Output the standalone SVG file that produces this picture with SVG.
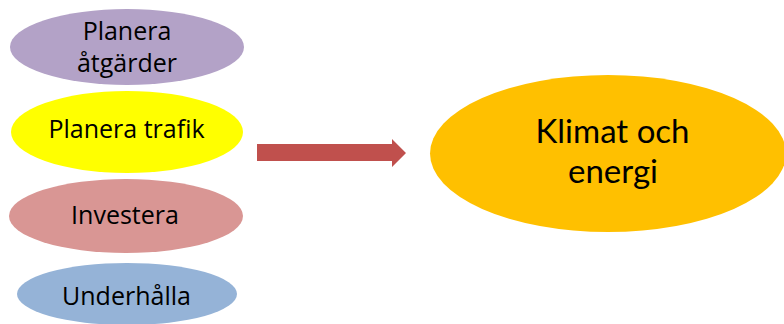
<svg xmlns="http://www.w3.org/2000/svg" width="784" height="324" viewBox="0 0 784 324">
  <style>
    .lbl { font-family: "Open Sans", "Noto Sans", sans-serif; font-size: 25px; fill: #000; text-anchor: middle; }
    .big { font-family: Lato, "Open Sans", sans-serif; font-size: 33px; fill: #000; text-anchor: middle; }
  </style>
  <rect width="784" height="324" fill="#fff"/>

  <g id="planera-atgarder">
    <ellipse cx="127" cy="47" rx="117" ry="38" fill="#B3A2C7"/>
    <text class="lbl"><tspan x="127" y="40">Planera</tspan><tspan x="127" y="72">åtgärder</tspan></text>
  </g>

  <g id="planera-trafik">
    <ellipse cx="127" cy="132" rx="116" ry="41" fill="#FFFF00"/>
    <text class="lbl" x="126.5" y="138">Planera trafik</text>
  </g>

  <g id="investera">
    <ellipse cx="126" cy="216" rx="117" ry="37" fill="#D99694"/>
    <text class="lbl" x="125" y="224">Investera</text>
  </g>

  <g id="underhalla">
    <ellipse cx="127" cy="294" rx="110" ry="31" fill="#95B3D7"/>
    <text class="lbl" x="126.5" y="305">Underhålla</text>
  </g>

  <g id="connectors">
    <polygon points="257,144 392,144 392,139 406,153 392,167 392,161 257,161" fill="#C0504D"/>
  </g>

  <g id="klimat-och-energi">
    <ellipse cx="608" cy="153.5" rx="178" ry="78.5" fill="#FFC000"/>
    <text class="big"><tspan x="612.5" y="143">Klimat och</tspan><tspan x="613" y="183">energi</tspan></text>
  </g>
</svg>
